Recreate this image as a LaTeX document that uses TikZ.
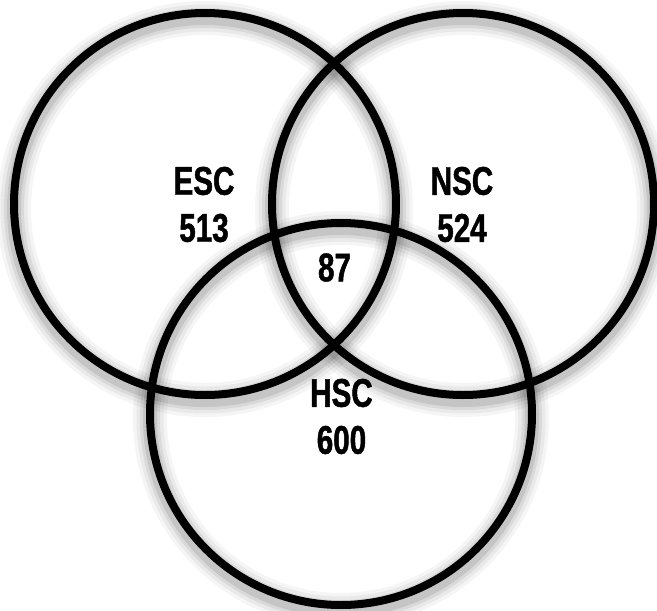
\documentclass[tikz,border=0pt]{standalone}
\usepackage{fontspec}
\newfontfamily\vennfont{Liberation Sans}[FakeStretch=0.74,FakeBold=1.2]
\tikzset{
  vennset/.style={circle,draw=black,line width=8pt,minimum size=382pt,inner sep=0pt},
  venntext/.style={font=\vennfont\bfseries\fontsize{40}{47}\selectfont,align=center,inner sep=0pt},
}
\begin{document}
\begin{tikzpicture}[x=1pt,y=-1pt]
\useasboundingbox (0,0) rectangle (657,611);
% soft shadow under the rings
\foreach \cx/\cy in {205/204,463/204,341/414}{
  \foreach \w/\o in {34/0.04,27/0.05,20/0.07,14/0.09}
    \draw[black,opacity=\o,line width=\w pt] (\cx,\cy+5) circle[radius=191];
}
\node[vennset] (esc) at (205,204) {};
\node[vennset] (nsc) at (463,204) {};
\node[vennset] (hsc) at (341,414) {};
\node[venntext] (esclabel) at (204,204.5) {ESC\\513};
\node[venntext] (nsclabel) at (462,204.5) {NSC\\524};
\node[venntext] (hsclabel) at (341.5,416.5) {HSC\\600};
\node[venntext] (core) at (334.5,267.5) {87};
\end{tikzpicture}
\end{document}
